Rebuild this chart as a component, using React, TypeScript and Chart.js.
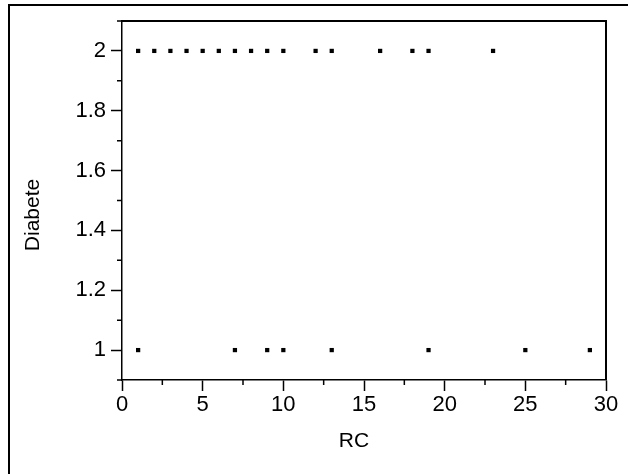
import React, { useEffect, useRef } from "react";
import { Chart, registerables } from "chart.js";

Chart.register(...registerables);

// RC values with Diabete = 2
const rcDiabete2: number[] = [1, 2, 3, 4, 5, 6, 7, 8, 9, 10, 12, 13, 16, 18, 19, 23];
// RC values with Diabete = 1
const rcDiabete1: number[] = [1, 7, 9, 10, 13, 19, 25, 29];

const xMajorTicks: number[] = [0, 5, 10, 15, 20, 25, 30];
const xMinorTicks: number[] = [2.5, 7.5, 12.5, 17.5, 22.5, 27.5];
const yMajorTicks: number[] = [1, 1.2, 1.4, 1.6, 1.8, 2];
const yMinorTicks: number[] = [0.9, 1.1, 1.3, 1.5, 1.7, 1.9, 2.1];

const xTitle = "RC";
const yTitle = "Diabete";

const FONT = "Arial, 'Liberation Sans', sans-serif";

const framePlugin = {
  id: "frameAndMinor",
  afterDraw(chart: any) {
    const ctx = chart.ctx;
    const { left, right, top, bottom } = chart.chartArea;
    const xs = chart.scales.x;
    const ys = chart.scales.y;
    ctx.save();
    ctx.strokeStyle = "#000";
    // plot box top and right
    ctx.lineWidth = 2;
    ctx.beginPath();
    ctx.moveTo(left, top);
    ctx.lineTo(right, top);
    ctx.lineTo(right, bottom);
    ctx.stroke();
    // minor ticks
    ctx.lineWidth = 1.5;
    ctx.beginPath();
    xMinorTicks.forEach((v) => {
      const px = xs.getPixelForValue(v);
      ctx.moveTo(px, bottom);
      ctx.lineTo(px, bottom + 5);
    });
    yMinorTicks.forEach((v) => {
      const py = ys.getPixelForValue(v);
      ctx.moveTo(left, py);
      ctx.lineTo(left - 5, py);
    });
    ctx.stroke();
    // outer frame (top and left)
    ctx.lineWidth = 2;
    ctx.beginPath();
    ctx.moveTo(9, 474);
    ctx.lineTo(9, 5);
    ctx.lineTo(628, 5);
    ctx.stroke();
    // axis titles
    ctx.fillStyle = "#000";
    ctx.font = `21px ${FONT}`;
    ctx.textAlign = "center";
    ctx.textBaseline = "middle";
    ctx.fillText(xTitle, 354, 441);
    ctx.translate(33, 215);
    ctx.rotate(-Math.PI / 2);
    ctx.fillText(yTitle, 0, 0);
    ctx.restore();
  },
};

export default function App() {
  const canvasRef = useRef<HTMLCanvasElement | null>(null);

  useEffect(() => {
    const canvas = canvasRef.current;
    if (!canvas) return;
    const chart = new Chart(canvas, {
      type: "scatter",
      data: {
        datasets: [
          {
            label: "Diabete 2",
            data: rcDiabete2.map((x) => ({ x, y: 2 })),
            pointStyle: "rect",
            pointRadius: 3,
            borderWidth: 0,
            backgroundColor: "#000",
            borderColor: "#000",
          },
          {
            label: "Diabete 1",
            data: rcDiabete1.map((x) => ({ x, y: 1 })),
            pointStyle: "rect",
            pointRadius: 3,
            borderWidth: 0,
            backgroundColor: "#000",
            borderColor: "#000",
          },
        ],
      },
      options: {
        animation: false,
        responsive: false,
        maintainAspectRatio: false,
        layout: { padding: { left: 0, top: 21, right: 22, bottom: 0 } },
        plugins: {
          legend: { display: false },
          tooltip: { enabled: false },
        },
        scales: {
          x: {
            type: "linear",
            min: 0,
            max: 30,
            afterFit: (s: any) => {
              s.height = 94;
            },
            afterBuildTicks: (s: any) => {
              s.ticks = xMajorTicks.map((v) => ({ value: v }));
            },
            ticks: {
              color: "#000",
              padding: 1,
              font: { family: FONT, size: 22 },
              callback: (v: any) => String(v),
              maxRotation: 0,
              autoSkip: false,
            },
            grid: {
              drawOnChartArea: false,
              drawTicks: true,
              tickLength: 11,
              tickWidth: 1.5,
              tickColor: "#000",
            },
            border: { display: true, color: "#000", width: 1.5 },
          },
          y: {
            type: "linear",
            min: 0.9,
            max: 2.1,
            afterFit: (s: any) => {
              s.width = 122;
            },
            afterBuildTicks: (s: any) => {
              s.ticks = yMajorTicks.map((v) => ({ value: v }));
            },
            ticks: {
              color: "#000",
              padding: 5,
              font: { family: FONT, size: 22 },
              callback: (v: any) => String(Number(Number(v).toFixed(1))),
              autoSkip: false,
            },
            grid: {
              drawOnChartArea: false,
              drawTicks: true,
              tickLength: 11,
              tickWidth: 1.5,
              tickColor: "#000",
            },
            border: { display: true, color: "#000", width: 1.5 },
          },
        },
      },
      plugins: [framePlugin],
    } as any);
    return () => chart.destroy();
  }, []);

  return (
    <div style={{ position: "fixed", left: 0, top: 0, width: 628, height: 474, background: "#fff" }}>
      <canvas ref={canvasRef} width={628} height={474} style={{ display: "block", width: 628, height: 474 }} />
    </div>
  );
}
